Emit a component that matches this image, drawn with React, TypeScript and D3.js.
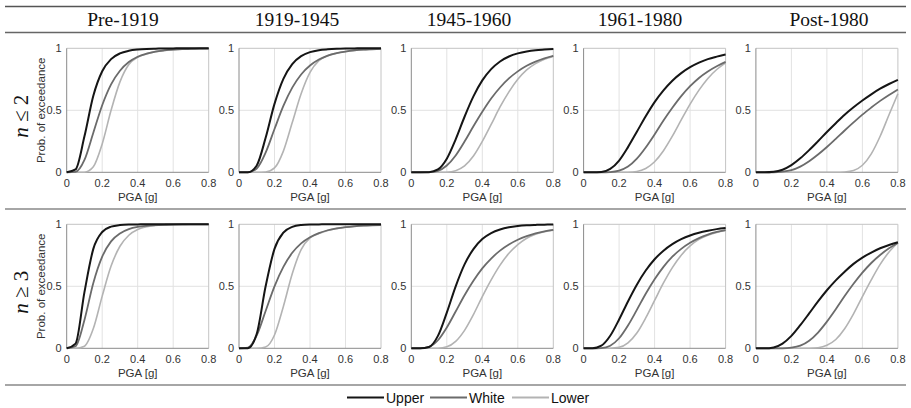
import React from "react";
import * as d3 from "d3";

// ---------- data ----------
const periods = ["Pre-1919", "1919-1945", "1945-1960", "1961-1980", "Post-1980"];
const seriesNames = ["Upper", "White", "Lower"];
const xTicks = [0, 0.2, 0.4, 0.6, 0.8];
const yTicks = [0, 0.5, 1];
const pga = [0, 0.05, 0.1, 0.15, 0.2, 0.25, 0.3, 0.35, 0.4, 0.45, 0.5, 0.55, 0.6, 0.65, 0.7, 0.75, 0.8];

// n <= 2
const upperN2 = [
  [0, 0.023, 0.29, 0.617, 0.815, 0.913, 0.959, 0.98, 0.99, 0.995, 0.997, 0.998, 0.999, 1, 1, 1, 1],
  [0, 0, 0.055, 0.278, 0.552, 0.754, 0.873, 0.937, 0.969, 0.985, 0.992, 0.996, 0.998, 0.999, 1, 1, 1],
  [0, 0, 0.001, 0.023, 0.11, 0.266, 0.448, 0.612, 0.741, 0.832, 0.894, 0.934, 0.959, 0.975, 0.985, 0.99, 0.994],
  [0, 0, 0.003, 0.027, 0.095, 0.203, 0.327, 0.452, 0.566, 0.661, 0.739, 0.8, 0.848, 0.885, 0.913, 0.933, 0.95],
  [0, 0, 0.004, 0.021, 0.058, 0.113, 0.179, 0.251, 0.325, 0.396, 0.464, 0.524, 0.579, 0.629, 0.674, 0.712, 0.746],
];
const whiteN2 = [
  [0, 0.004, 0.1, 0.319, 0.541, 0.709, 0.819, 0.889, 0.932, 0.957, 0.974, 0.983, 0.989, 0.993, 0.995, 0.997, 0.998],
  [0, 0, 0.031, 0.159, 0.349, 0.535, 0.683, 0.789, 0.861, 0.909, 0.941, 0.961, 0.974, 0.983, 0.989, 0.992, 0.995],
  [0, 0, 0.001, 0.012, 0.055, 0.136, 0.248, 0.371, 0.488, 0.595, 0.684, 0.757, 0.814, 0.859, 0.893, 0.919, 0.939],
  [0, 0, 0, 0.002, 0.013, 0.046, 0.11, 0.2, 0.305, 0.417, 0.52, 0.614, 0.694, 0.761, 0.813, 0.855, 0.89],
  [0, 0, 0, 0.005, 0.018, 0.046, 0.089, 0.143, 0.204, 0.27, 0.337, 0.402, 0.465, 0.522, 0.576, 0.624, 0.668],
];
const lowerN2 = [
  [0, 0, 0.001, 0.045, 0.229, 0.5, 0.729, 0.869, 0.928, 0.955, 0.973, 0.983, 0.989, 0.993, 0.995, 0.997, 0.998],
  [0, 0, 0, 0.002, 0.035, 0.171, 0.401, 0.633, 0.805, 0.9, 0.94, 0.96, 0.974, 0.983, 0.989, 0.992, 0.995],
  [0, 0, 0, 0, 0.001, 0.013, 0.051, 0.131, 0.249, 0.386, 0.527, 0.649, 0.75, 0.826, 0.876, 0.912, 0.935],
  [0, 0, 0, 0, 0, 0.001, 0.007, 0.031, 0.085, 0.174, 0.291, 0.422, 0.55, 0.663, 0.757, 0.829, 0.883],
  [0, 0, 0, 0, 0, 0, 0, 0, 0, 0, 0.003, 0.015, 0.057, 0.149, 0.291, 0.464, 0.633],
];

// n >= 3
const upperN3 = [
  [0, 0.038, 0.453, 0.802, 0.938, 0.981, 0.994, 0.998, 0.999, 1, 1, 1, 1, 1, 1, 1, 1],
  [0, 0.001, 0.117, 0.5, 0.802, 0.933, 0.979, 0.994, 0.998, 0.999, 1, 1, 1, 1, 1, 1, 1],
  [0, 0, 0.011, 0.1, 0.288, 0.5, 0.677, 0.8, 0.881, 0.929, 0.958, 0.976, 0.986, 0.992, 0.995, 0.997, 0.998],
  [0, 0, 0.021, 0.101, 0.232, 0.378, 0.513, 0.627, 0.718, 0.787, 0.84, 0.88, 0.91, 0.932, 0.948, 0.961, 0.97],
  [0, 0, 0.007, 0.038, 0.1, 0.186, 0.281, 0.378, 0.468, 0.548, 0.618, 0.681, 0.732, 0.772, 0.807, 0.833, 0.855],
];
const whiteN3 = [
  [0, 0.017, 0.229, 0.527, 0.739, 0.862, 0.926, 0.961, 0.979, 0.988, 0.993, 0.996, 0.998, 0.999, 0.999, 1, 1],
  [0, 0.006, 0.104, 0.301, 0.5, 0.657, 0.77, 0.846, 0.896, 0.929, 0.952, 0.967, 0.977, 0.984, 0.989, 0.992, 0.994],
  [0, 0, 0.011, 0.065, 0.168, 0.297, 0.428, 0.545, 0.645, 0.724, 0.788, 0.837, 0.875, 0.904, 0.926, 0.943, 0.955],
  [0, 0, 0.002, 0.021, 0.081, 0.184, 0.31, 0.44, 0.557, 0.657, 0.739, 0.802, 0.851, 0.889, 0.917, 0.938, 0.954],
  [0, 0, 0, 0, 0.005, 0.021, 0.061, 0.127, 0.215, 0.315, 0.421, 0.52, 0.61, 0.688, 0.752, 0.806, 0.849],
];
const lowerN3 = [
  [0, 0, 0.017, 0.159, 0.421, 0.663, 0.823, 0.912, 0.958, 0.98, 0.99, 0.995, 0.998, 0.999, 1, 1, 1],
  [0, 0, 0, 0.01, 0.107, 0.337, 0.601, 0.796, 0.89, 0.925, 0.95, 0.965, 0.976, 0.984, 0.989, 0.992, 0.994],
  [0, 0, 0, 0.001, 0.012, 0.056, 0.145, 0.272, 0.417, 0.552, 0.671, 0.766, 0.836, 0.888, 0.92, 0.94, 0.953],
  [0, 0, 0, 0.001, 0.008, 0.044, 0.123, 0.245, 0.386, 0.527, 0.651, 0.751, 0.826, 0.878, 0.912, 0.934, 0.95],
  [0, 0, 0, 0, 0, 0, 0.001, 0.005, 0.024, 0.071, 0.158, 0.278, 0.417, 0.552, 0.677, 0.776, 0.851],
];

// ---------- layout ----------
const W = 911;
const H = 408;
const SANS = "'Liberation Sans', Arial, Helvetica, sans-serif";
const SERIF = "'Liberation Serif', 'Times New Roman', Times, serif";
const colors = ["#151515", "#6b6b6b", "#b3b3b3"];
const widths = [2, 1.8, 1.6];
const panelW = 142;
const panelH = 124;
const panelX0 = 66.7;
const panelStep = 172.3;
const rowTops = [48.3, 224.3];
const titleCenters = [123, 297, 469, 640, 829];

const rows = [
  { label: "≤ 2", series: [upperN2, whiteN2, lowerN2] },
  { label: "≥ 3", series: [upperN3, whiteN3, lowerN3] },
];

function Panel({ col, row, seriesSet }: any) {
  const left = panelX0 + col * panelStep;
  const top = rowTops[row];
  const x = d3.scaleLinear().domain([0, 0.8]).range([left, left + panelW]);
  const y = d3.scaleLinear().domain([0, 1]).range([top + panelH, top]);
  const line = d3
    .line<number>()
    .x((_, i) => x(pga[i]))
    .y((v) => y(v))
    .curve(d3.curveMonotoneX);
  const fmt = (v: number) => (v === 0 ? "0" : String(v));
  return (
    <g>
      <rect x={left} y={top} width={panelW} height={panelH} fill="#fff" />
      {xTicks.slice(1, -1).map((t) => (
        <line key={"gx" + t} x1={x(t)} x2={x(t)} y1={top} y2={top + panelH} stroke="#e2e2e2" strokeWidth={1} />
      ))}
      <line x1={left} x2={left + panelW} y1={y(0.5)} y2={y(0.5)} stroke="#e2e2e2" strokeWidth={1} />
      <line x1={left} x2={left + panelW} y1={top} y2={top} stroke="#c4c4c4" strokeWidth={1} />
      <line x1={left + panelW} x2={left + panelW} y1={top} y2={top + panelH} stroke="#c4c4c4" strokeWidth={1} />
      <line x1={left} x2={left} y1={top} y2={top + panelH} stroke="#8a8a8a" strokeWidth={1} />
      <line x1={left} x2={left + panelW} y1={top + panelH} y2={top + panelH} stroke="#8a8a8a" strokeWidth={1} />
      {[2, 1, 0].map((s) => (
        <path
          key={s}
          d={line(seriesSet[s][col]) || ""}
          fill="none"
          stroke={colors[s]}
          strokeWidth={widths[s]}
          strokeLinejoin="round"
        />
      ))}
      {xTicks.map((t) => (
        <text key={"xt" + t} x={x(t)} y={top + panelH + 15} fontSize={11} fontFamily={SANS} fill="#333" textAnchor="middle">
          {fmt(t)}
        </text>
      ))}
      {yTicks.map((t) => (
        <text key={"yt" + t} x={left - 5} y={y(t) + 4} fontSize={11} fontFamily={SANS} fill="#333" textAnchor="end">
          {fmt(t)}
        </text>
      ))}
      <text x={left + panelW / 2} y={top + panelH + 29} fontSize={11.5} fontFamily={SANS} fill="#333" textAnchor="middle">
        PGA [g]
      </text>
    </g>
  );
}

export default function App() {
  return (
    <svg
      width={W}
      height={H}
      viewBox={`0 0 ${W} ${H}`}
      style={{ position: "absolute", left: 0, top: 0, background: "#fff" }}
    >
      <rect x={0} y={0} width={W} height={H} fill="#fff" />
      <line x1={5} x2={906} y1={6.5} y2={6.5} stroke="#555" strokeWidth={1.5} />
      <line x1={5} x2={906} y1={32.5} y2={32.5} stroke="#666" strokeWidth={1.5} />
      <line x1={5} x2={906} y1={209} y2={209} stroke="#888" strokeWidth={1.5} />
      <line x1={5} x2={906} y1={385} y2={385} stroke="#888" strokeWidth={1.5} />
      {periods.map((p, i) => (
        <text key={p} x={titleCenters[i]} y={26} fontSize={19.5} fontFamily={SERIF} fill="#111" textAnchor="middle">
          {p}
        </text>
      ))}
      {rows.map((r, ri) => {
        const cy = rowTops[ri] + panelH / 2;
        return (
          <g key={ri}>
            <text
              transform={`translate(28,${cy + 6}) rotate(-90)`}
              fontSize={21}
              fontFamily={SERIF}
              fill="#111"
              textAnchor="middle"
            >
              <tspan fontStyle="italic">n</tspan>
              <tspan> {r.label}</tspan>
            </text>
            <text
              transform={`translate(45,${cy}) rotate(-90)`}
              fontSize={11.5}
              fontFamily={SANS}
              fill="#333"
              textAnchor="middle"
            >
              Prob. of exceedance
            </text>
            {periods.map((p, ci) => (
              <Panel key={p} col={ci} row={ri} seriesSet={r.series} />
            ))}
          </g>
        );
      })}
      {seriesNames.map((s, i) => {
        const lx = [347, 430, 512][i];
        return (
          <g key={s}>
            <line x1={lx} x2={lx + 37} y1={397.5} y2={397.5} stroke={colors[i]} strokeWidth={2.2} />
            <text x={lx + 39} y={402.5} fontSize={14} fontFamily={SANS} fill="#111">
              {s}
            </text>
          </g>
        );
      })}
    </svg>
  );
}
